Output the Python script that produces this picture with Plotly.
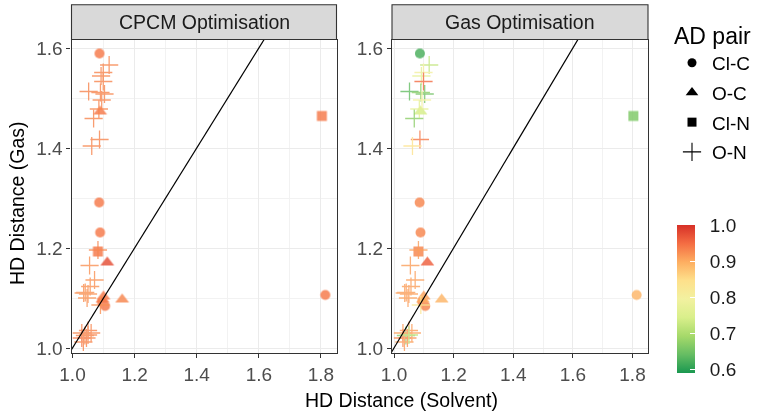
import plotly.graph_objects as go

# ---------------- data ----------------
pair = (["Cl-C"] * 6 + ["O-C"] * 5 + ["Cl-N"] * 2 + ["O-N"] * 29)
solvent = [
    # Cl-C
    1.087, 1.086, 1.089, 1.105, 1.095, 1.814,
    # O-C
    1.089, 1.112, 1.100, 1.097, 1.160,
    # Cl-N
    1.803, 1.082,
    # O-N
    1.118, 1.099, 1.092, 1.099, 1.052, 1.103, 1.090, 1.094, 1.085, 1.068,
    1.087, 1.062, 1.082,
    1.055, 1.071, 1.057, 1.041, 1.050, 1.036, 1.047, 1.090,
    1.030, 1.040, 1.050, 1.045, 1.030, 1.060, 1.035, 1.050,
]
gas = [
    1.589, 1.291, 1.231, 1.084, 1.092, 1.106,
    1.473, 1.171, 1.103, 1.097, 1.097,
    1.464, 1.193,
    1.566, 1.551, 1.544, 1.533, 1.513, 1.508, 1.511, 1.496, 1.478, 1.459,
    1.417, 1.404, 1.196,
    1.165, 1.136, 1.123, 1.111, 1.108, 1.110, 1.100, 1.086,
    1.030, 1.025, 1.035, 1.020, 1.020, 1.030, 1.012, 1.026,
]
score_cpcm = [
    0.94, 0.94, 0.94, 0.94, 0.94, 0.94,
    0.94, 0.975, 0.94, 0.94, 0.93,
    0.94, 0.94,
    0.93, 0.93, 0.93, 0.93, 0.93, 0.93, 0.93, 0.93, 0.93, 0.93,
    0.93, 0.93, 0.93,
    0.92, 0.92, 0.92, 0.92, 0.92, 0.92, 0.92, 0.92,
    0.93, 0.93, 0.93, 0.93, 0.94, 0.93, 0.93, 0.93,
]
score_gas = [
    0.62, 0.93, 0.93, 0.93, 0.93, 0.89,
    0.74, 0.96, 0.91, 0.90, 0.89,
    0.66, 0.93,
    0.72, 0.80, 0.77, 0.95, 0.64, 0.65, 0.67, 0.80, 0.77, 0.67,
    0.94, 0.84, 0.91,
    0.91, 0.91, 0.91, 0.91, 0.91, 0.91, 0.91, 0.83,
    0.91, 0.67, 0.91, 0.92, 0.93, 0.91, 0.91, 0.71,
]
pair_levels = ["Cl-C", "O-C", "Cl-N", "O-N"]
panel_titles = ["CPCM Optimisation", "Gas Optimisation"]
x_ticks = [1.0, 1.2, 1.4, 1.6, 1.8]
y_ticks = [1.0, 1.2, 1.4, 1.6]
cbar_ticks = [0.6, 0.7, 0.8, 0.9, 1.0]

# ---------------- style ----------------
W, H = 765, 417
FONT = "Liberation Sans, Arial, sans-serif"
CMIN, CMAX = 0.589, 1.0
rdylgn = ["#1a9850", "#66bd63", "#a6d96a", "#d9ef8b", "#f2f1a0",
          "#fee08b", "#fdae61", "#f46d43", "#d73027"]
cscale = [[i / (len(rdylgn) - 1), c] for i, c in enumerate(rdylgn)]
symbols = {"Cl-C": "circle", "O-C": "triangle-up", "Cl-N": "square", "O-N": "cross-thin"}
sizes = {"Cl-C": 10, "O-C": 12, "Cl-N": 10, "O-N": 13}


def px_x(p):
    return p / W


def px_y(p):
    return (H - p) / H


panels = [
    dict(xd=[px_x(71.5), px_x(336.5)], xr=[0.9968, 1.850], score=score_cpcm, xa="x", ya="y"),
    dict(xd=[px_x(392), px_x(648)], xr=[0.9933, 1.852], score=score_gas, xa="x2", ya="y2"),
]
ydom = [px_y(353), px_y(39.5)]
yr = [0.990, 1.617]

fig = go.Figure()

for pi, pn in enumerate(panels):
    for lv in pair_levels:
        idx = [i for i, p in enumerate(pair) if p == lv]
        xs = [solvent[i] for i in idx]
        ys = [gas[i] for i in idx]
        cs = [pn["score"][i] for i in idx]
        if lv == "O-N":
            marker = dict(symbol=symbols[lv], size=sizes[lv],
                          line=dict(width=1.3, color=cs, colorscale=cscale, cmin=CMIN, cmax=CMAX))
            op = 0.8
        else:
            marker = dict(symbol=symbols[lv], size=sizes[lv], color=cs, colorscale=cscale,
                          cmin=CMIN, cmax=CMAX, line=dict(width=0))
            op = 0.82
        fig.add_trace(go.Scatter(x=xs, y=ys, mode="markers", marker=marker, opacity=op,
                                 showlegend=False, hoverinfo="skip",
                                 xaxis=pn["xa"], yaxis=pn["ya"]))
    # identity line y = x
    fig.add_trace(go.Scatter(x=[0.9, 2.0], y=[0.9, 2.0], mode="lines",
                             line=dict(color="black", width=1.2), showlegend=False,
                             hoverinfo="skip", xaxis=pn["xa"], yaxis=pn["ya"]))

# colourbar carrier
fig.add_trace(go.Scatter(
    x=[None], y=[None], mode="markers", showlegend=False, hoverinfo="skip",
    marker=dict(color=[0.8], colorscale=cscale, cmin=CMIN, cmax=CMAX, showscale=True,
                colorbar=dict(thickness=18, thicknessmode="pixels", len=148, lenmode="pixels",
                              x=px_x(677), xanchor="left", xpad=0,
                              y=px_y(299), yanchor="middle", ypad=0,
                              outlinewidth=0, tickvals=cbar_ticks,
                              ticktext=["\u00a0\u00a0%.1f" % v for v in cbar_ticks],
                              ticks="inside", ticklen=5, tickcolor="white", tickwidth=1,
                              tickfont=dict(size=19, color="#1A1A1A", family=FONT))),
    xaxis="x2", yaxis="y2"))

# legend entries for shapes
for lv in pair_levels:
    if lv == "O-N":
        mk = dict(symbol=symbols[lv], size=13, color="black", line=dict(width=1.1, color="black"))
    else:
        mk = dict(symbol=symbols[lv], size=sizes[lv] - 1, color="black")
    fig.add_trace(go.Scatter(x=[None], y=[None], mode="markers", name=lv, marker=mk,
                             legendgroup=lv, showlegend=True, xaxis="x2", yaxis="y2"))

axis_common = dict(showgrid=True, gridcolor="#EBEBEB", gridwidth=1.1, zeroline=False,
                   showline=True, mirror=True, linecolor="#333333", linewidth=1.1,
                   ticks="outside", ticklen=4, tickcolor="#333333", tickwidth=1,
                   tickfont=dict(size=19, color="#4D4D4D", family=FONT))

layout_axes = {}
for pi, pn in enumerate(panels):
    sx = "" if pi == 0 else "2"
    layout_axes["xaxis" + sx] = dict(axis_common, domain=pn["xd"], range=pn["xr"],
                                     tickvals=x_ticks, ticktext=["%.1f" % v for v in x_ticks],
                                     anchor="y" + sx,
                                     minor=dict(tickvals=[1.1, 1.3, 1.5, 1.7], showgrid=True,
                                                gridcolor="#F2F2F2", gridwidth=0.6, ticks=""))
    layout_axes["yaxis" + sx] = dict(axis_common, domain=ydom, range=yr,
                                     tickvals=y_ticks, ticktext=["%.1f" % v for v in y_ticks],
                                     anchor="x" + sx,
                                     minor=dict(tickvals=[1.1, 1.3, 1.5], showgrid=True,
                                                gridcolor="#F2F2F2", gridwidth=0.6, ticks=""))

shapes = []
annotations = []
for pi, pn in enumerate(panels):
    shapes.append(dict(type="rect", xref="paper", yref="paper",
                       x0=pn["xd"][0], x1=pn["xd"][1], y0=px_y(39.5), y1=px_y(4.7),
                       fillcolor="#D9D9D9", line=dict(color="#333333", width=1.1)))
    annotations.append(dict(text=panel_titles[pi], xref="paper", yref="paper",
                            x=(pn["xd"][0] + pn["xd"][1]) / 2, y=(px_y(39.5) + px_y(4.7)) / 2,
                            xanchor="center", yanchor="middle", showarrow=False,
                            font=dict(size=19.5, color="#1A1A1A", family=FONT)))

annotations.append(dict(text="HD Distance (Solvent)", xref="paper", yref="paper",
                        x=px_x(401.5), y=px_y(400), xanchor="center", yanchor="middle",
                        showarrow=False, font=dict(size=19.5, color="black", family=FONT)))
annotations.append(dict(text="HD Distance (Gas)", xref="paper", yref="paper",
                        x=px_x(17), y=px_y(203), xanchor="center", yanchor="middle",
                        textangle=-90, showarrow=False,
                        font=dict(size=19.5, color="black", family=FONT)))

fig.update_layout(
    width=W, height=H, margin=dict(l=0, r=0, t=0, b=0, autoexpand=False),
    paper_bgcolor="white", plot_bgcolor="white",
    font=dict(family=FONT, color="black"),
    shapes=shapes, annotations=annotations,
    legend=dict(x=px_x(672), y=px_y(14), xanchor="left", yanchor="top",
                title=dict(text="AD pair", font=dict(size=23, family=FONT, color="black")),
                font=dict(size=19, family=FONT, color="black"),
                tracegroupgap=2, itemwidth=30, bgcolor="rgba(0,0,0,0)"),
    **layout_axes,
)

fig.write_html("out.html", config={"displayModeBar": False},
               post_script="document.body.style.margin='0';document.body.style.overflow='hidden';")
